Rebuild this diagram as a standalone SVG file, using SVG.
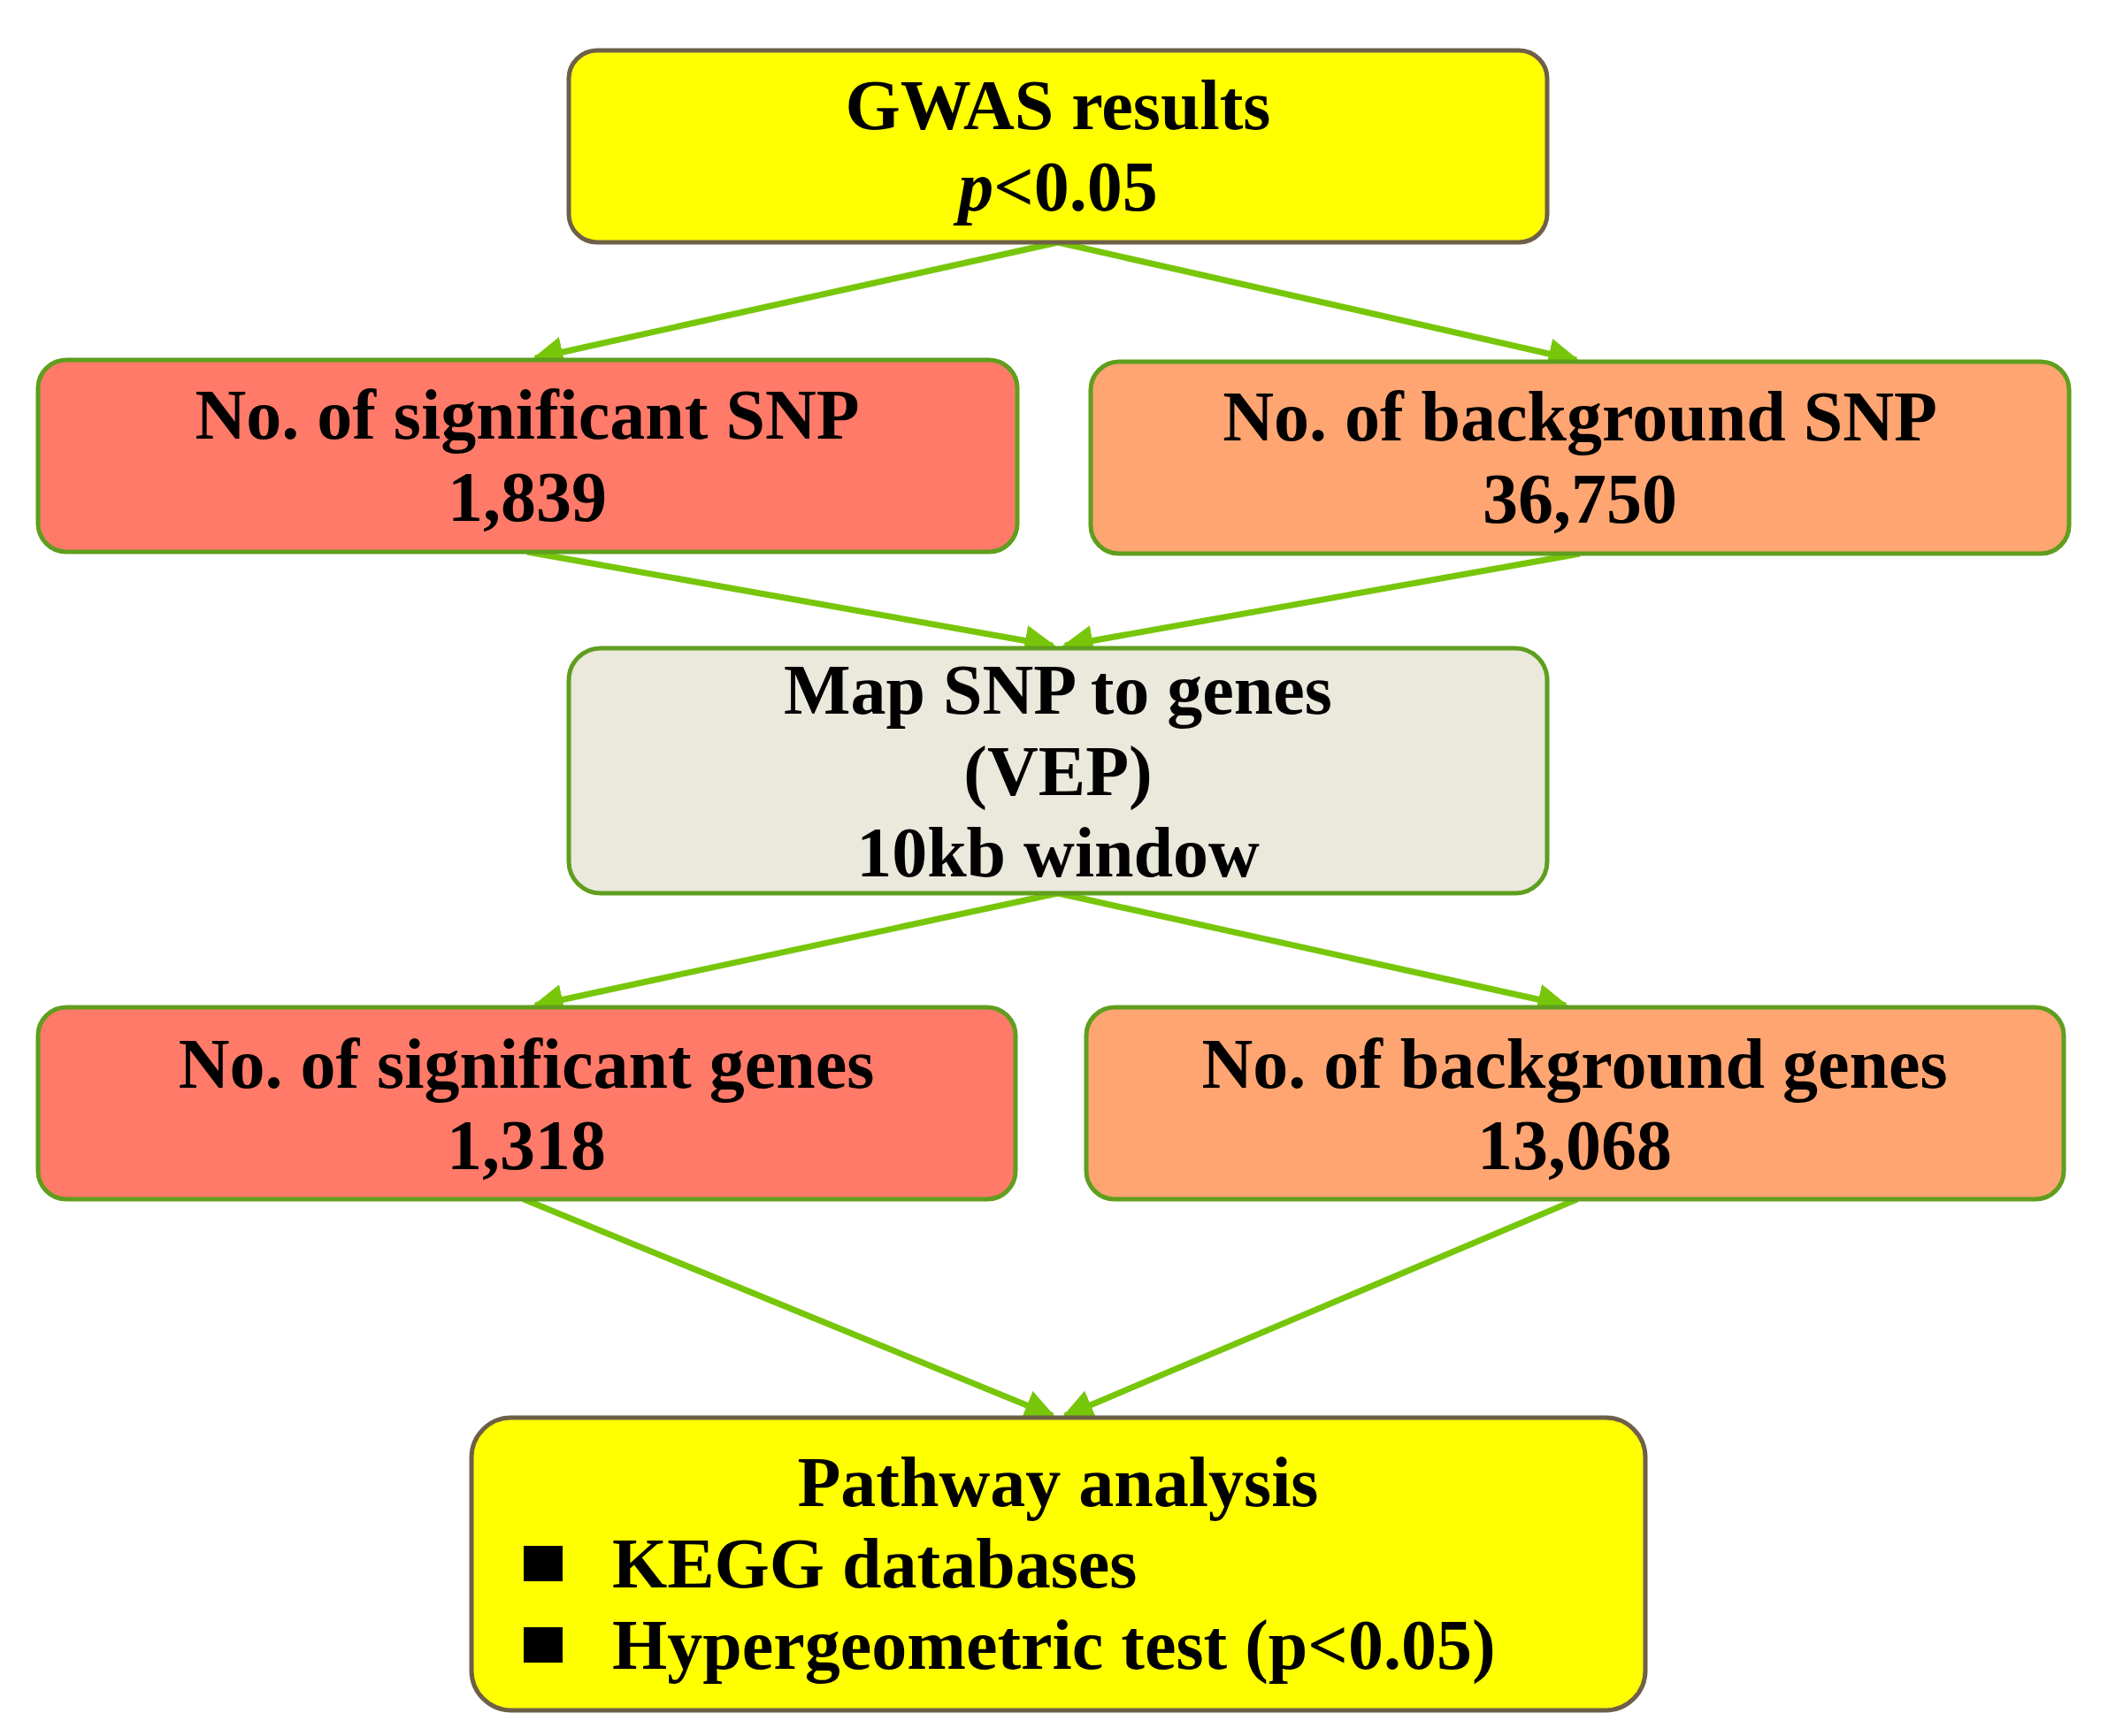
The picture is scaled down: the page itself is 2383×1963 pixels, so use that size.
<svg xmlns="http://www.w3.org/2000/svg" width="2383" height="1963" viewBox="0 0 2383 1963">
<defs>
<style>
.t{font-family:"Liberation Serif","Times New Roman",serif;font-weight:bold;font-size:80px;fill:#000;text-anchor:middle}
.l{text-anchor:start}
.box{stroke-width:5}
.g{stroke:#5f9e1e}
.b{stroke:#6e6048}
.c{stroke:#77c60a;stroke-width:7;fill:none;marker-end:url(#ah)}
</style>
<marker id="ah" viewBox="0 0 10 10" refX="9" refY="5" markerWidth="5" markerHeight="5" orient="auto" markerUnits="strokeWidth">
<path d="M0,0 L10,5 L0,10 z" fill="#77c60a"/>
</marker>
</defs>
<rect width="2383" height="1963" fill="#fff"/>
<g id="connectors">
<line class="c" x1="1196" y1="274" x2="605" y2="405"/>
<line class="c" x1="1196" y1="274" x2="1782" y2="407"/>
<line class="c" x1="596" y1="624" x2="1190" y2="730"/>
<line class="c" x1="1786" y1="626" x2="1204" y2="730"/>
<line class="c" x1="1196" y1="1010" x2="605" y2="1137"/>
<line class="c" x1="1196" y1="1010" x2="1770" y2="1137"/>
<line class="c" x1="592" y1="1356" x2="1190" y2="1601"/>
<line class="c" x1="1783" y1="1356" x2="1204" y2="1601"/>
</g>
<g id="gwas">
<rect class="box b" x="643" y="57" width="1106" height="217" rx="32" fill="#ffff00"/>
<text class="t" x="1196" y="146">GWAS results</text>
<text class="t" x="1196" y="238"><tspan font-style="italic">p</tspan>&lt;0.05</text>
</g>
<g id="sigsnp">
<rect class="box g" x="43" y="407" width="1107" height="217" rx="32" fill="#ff7a68"/>
<text class="t" x="596" y="496">No. of significant SNP</text>
<text class="t" x="596" y="589">1,839</text>
</g>
<g id="bgsnp">
<rect class="box g" x="1233" y="409" width="1106" height="217" rx="32" fill="#ffa572"/>
<text class="t" x="1786" y="498">No. of background SNP</text>
<text class="t" x="1786" y="591">36,750</text>
</g>
<g id="map">
<rect class="box g" x="643" y="733" width="1106" height="277" rx="36" fill="#ebe8dc"/>
<text class="t" x="1196" y="807">Map SNP to genes</text>
<text class="t" x="1196" y="899">(VEP)</text>
<text class="t" x="1196" y="991">10kb window</text>
</g>
<g id="siggenes">
<rect class="box g" x="43" y="1139" width="1105" height="217" rx="32" fill="#ff7a68"/>
<text class="t" x="595" y="1230">No. of significant genes</text>
<text class="t" x="595" y="1322">1,318</text>
</g>
<g id="bggenes">
<rect class="box g" x="1228" y="1139" width="1105" height="217" rx="32" fill="#ffa572"/>
<text class="t" x="1780" y="1230">No. of background genes</text>
<text class="t" x="1780" y="1322">13,068</text>
</g>
<g id="pathway">
<rect class="box b" x="533" y="1603" width="1327" height="331" rx="45" fill="#ffff00"/>
<text class="t" x="1196" y="1703">Pathway analysis</text>
<rect x="592" y="1748" width="44" height="40" fill="#000"/>
<text class="t l" x="692" y="1795">KEGG databases</text>
<rect x="592" y="1840" width="44" height="40" fill="#000"/>
<text class="t l" x="692" y="1887">Hypergeometric test (p&lt;0.05)</text>
</g>
</svg>
